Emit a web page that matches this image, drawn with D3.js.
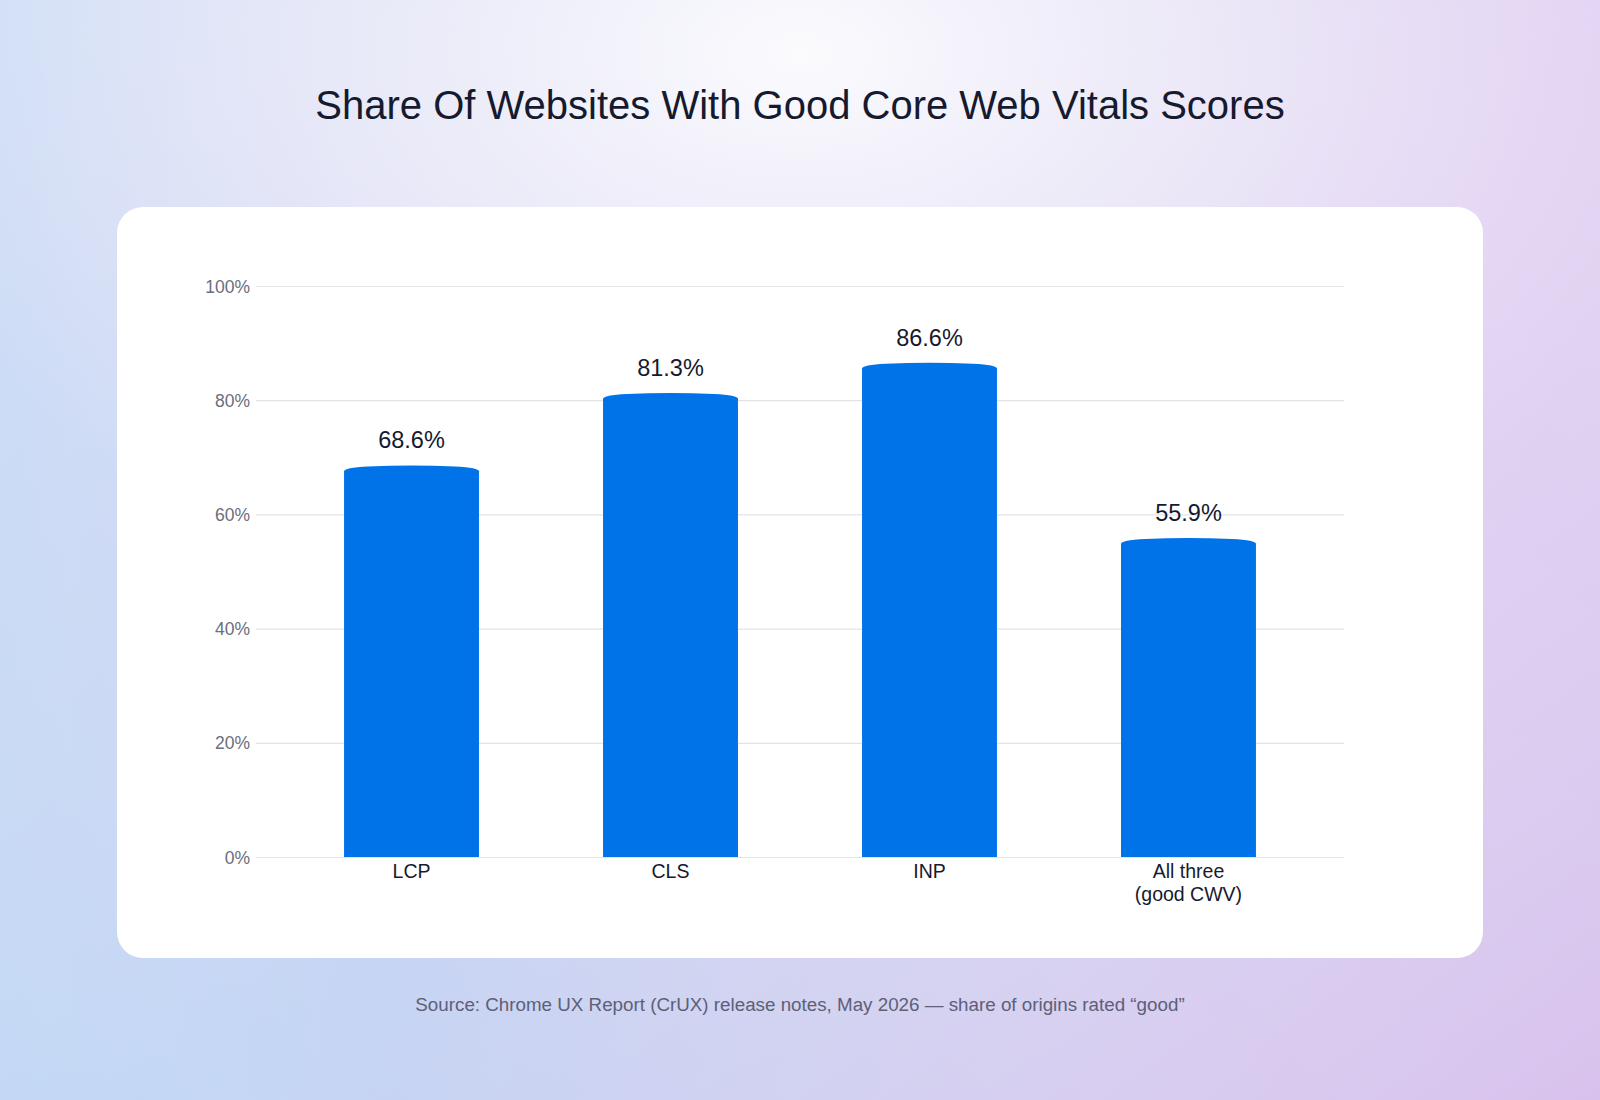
<!DOCTYPE html>
<html><head><meta charset="utf-8">
<script src="https://cdn.jsdelivr.net/npm/d3@7"></script>
<style>html,body{margin:0;padding:0;}svg{display:block;}</style>
</head><body>
<svg id="chart" width="1600" height="1100"></svg>
<script>
const categories = [["LCP"], ["CLS"], ["INP"], ["All three", "(good CWV)"]];
const values = [68.6, 81.3, 86.6, 55.9];
const valueLabels = ["68.6%", "81.3%", "86.6%", "55.9%"];
const yTicks = [0, 20, 40, 60, 80, 100];
const title = "Share Of Websites With Good Core Web Vitals Scores";
const source = "Source: Chrome UX Report (CrUX) release notes, May 2026 \u2014 share of origins rated \u201cgood\u201d";

const svg = d3.select("#chart");
const W = 1600, H = 1100;
const font = "'Liberation Sans', Arial, Helvetica, sans-serif";
const defs = svg.append("defs");

const lg = defs.append("linearGradient").attr("id","bgLin").attr("x1","0").attr("y1","1").attr("x2","1").attr("y2","0.3");
lg.append("stop").attr("offset","0%").attr("stop-color","#bad3f4");
lg.append("stop").attr("offset","50%").attr("stop-color","#d6d6f2");
lg.append("stop").attr("offset","100%").attr("stop-color","#e2d0f2");
const lg2 = defs.append("linearGradient").attr("id","bgLin2").attr("x1","0").attr("y1","0").attr("x2","1").attr("y2","1");
lg2.append("stop").attr("offset","0%").attr("stop-color","#d3e3f8").attr("stop-opacity",0.9);
lg2.append("stop").attr("offset","55%").attr("stop-color","#ddd6f2").attr("stop-opacity",0);
lg2.append("stop").attr("offset","100%").attr("stop-color","#d8bdec").attr("stop-opacity",0.8);
const lg3 = defs.append("linearGradient").attr("id","bgLin3").attr("x1","0").attr("y1","0").attr("x2","1").attr("y2","0");
lg3.append("stop").attr("offset","0%").attr("stop-color","#c8dcf6").attr("stop-opacity",0.6);
lg3.append("stop").attr("offset","25%").attr("stop-color","#d6e2f8").attr("stop-opacity",0);
lg3.append("stop").attr("offset","100%").attr("stop-color","#e4d4f4").attr("stop-opacity",0);
const rg = defs.append("radialGradient").attr("id","bgRad").attr("cx","0.5").attr("cy","0.05").attr("r","0.6")
  .attr("gradientTransform","translate(0.5,0.05) scale(1,0.9) translate(-0.5,-0.05)");
rg.append("stop").attr("offset","0%").attr("stop-color","#fbfbfe").attr("stop-opacity",1);
rg.append("stop").attr("offset","45%").attr("stop-color","#f1f0fa").attr("stop-opacity",0.7);
rg.append("stop").attr("offset","100%").attr("stop-color","#ebe6f7").attr("stop-opacity",0);

svg.append("rect").attr("width",W).attr("height",H).attr("fill","url(#bgLin)");
svg.append("rect").attr("width",W).attr("height",H).attr("fill","url(#bgLin2)");
svg.append("rect").attr("width",W).attr("height",H).attr("fill","url(#bgLin3)");
svg.append("rect").attr("width",W).attr("height",H).attr("fill","url(#bgRad)");

svg.append("text").attr("x",800).attr("y",119).attr("text-anchor","middle")
  .attr("font-family",font).attr("font-size",40).attr("fill","#161a2e").text(title);

svg.append("rect").attr("x",117).attr("y",207).attr("width",1366).attr("height",751)
  .attr("rx",26).attr("ry",26).attr("fill","#ffffff");

const x = d3.scaleBand().domain(categories.map(d=>d.join(" "))).range([256,1344]).paddingInner(0.479).paddingOuter(0.34);
const y = d3.scaleLinear().domain([0,100]).range([857,286]);

const g = svg.append("g");
const yAxis = d3.axisLeft(y).tickValues(yTicks).tickFormat(d=>d+"%").tickSize(-(1344-256)).tickPadding(10);
const ya = g.append("g").attr("transform","translate(256,0)").call(yAxis);
ya.select(".domain").remove();
ya.selectAll(".tick line").attr("stroke","#e3e3e6").attr("stroke-width",1.2);
ya.selectAll(".tick text").attr("font-family",font).attr("font-size",17.5).attr("fill","#6b6e7c").attr("x",-6).attr("dy","0.35em");

function barPath(x0, w, yTop, yBot){
  const c = Math.min(6, (yBot-yTop)/2), rx = 24;
  return `M${x0},${yBot} L${x0},${yTop+c} Q${x0},${yTop+c*0.4} ${x0+rx},${yTop+c*0.2} Q${x0+w/2},${yTop-c*0.15} ${x0+w-rx},${yTop+c*0.2} Q${x0+w},${yTop+c*0.4} ${x0+w},${yTop+c} L${x0+w},${yBot} Z`;
}

const data = categories.map((c,i)=>({key:c.join(" "), lines:c, v:values[i], lab:valueLabels[i]}));
g.selectAll("path.bar").data(data).join("path").attr("class","bar")
  .attr("d",d=>barPath(x(d.key), x.bandwidth(), y(d.v), y(0)))
  .attr("fill","#0073e8");

g.selectAll("text.val").data(data).join("text").attr("class","val")
  .attr("x",d=>x(d.key)+x.bandwidth()/2).attr("y",d=>y(d.v)-17)
  .attr("text-anchor","middle").attr("font-family",font).attr("font-size",23.5).attr("fill","#161a2e")
  .text(d=>d.lab);

const cl = g.selectAll("text.cat").data(data).join("text").attr("class","cat")
  .attr("text-anchor","middle").attr("font-family",font).attr("font-size",19.5).attr("fill","#161a2e");
cl.selectAll("tspan").data(d=>d.lines.map(l=>({l, cx:x(d.key)+x.bandwidth()/2}))).join("tspan")
  .attr("x",d=>d.cx).attr("y",(d,i)=>878+i*23).text(d=>d.l);

svg.append("text").attr("x",800).attr("y",1011).attr("text-anchor","middle")
  .attr("font-family",font).attr("font-size",18.8).attr("fill","#5c6078").text(source);
</script>
</body></html>
